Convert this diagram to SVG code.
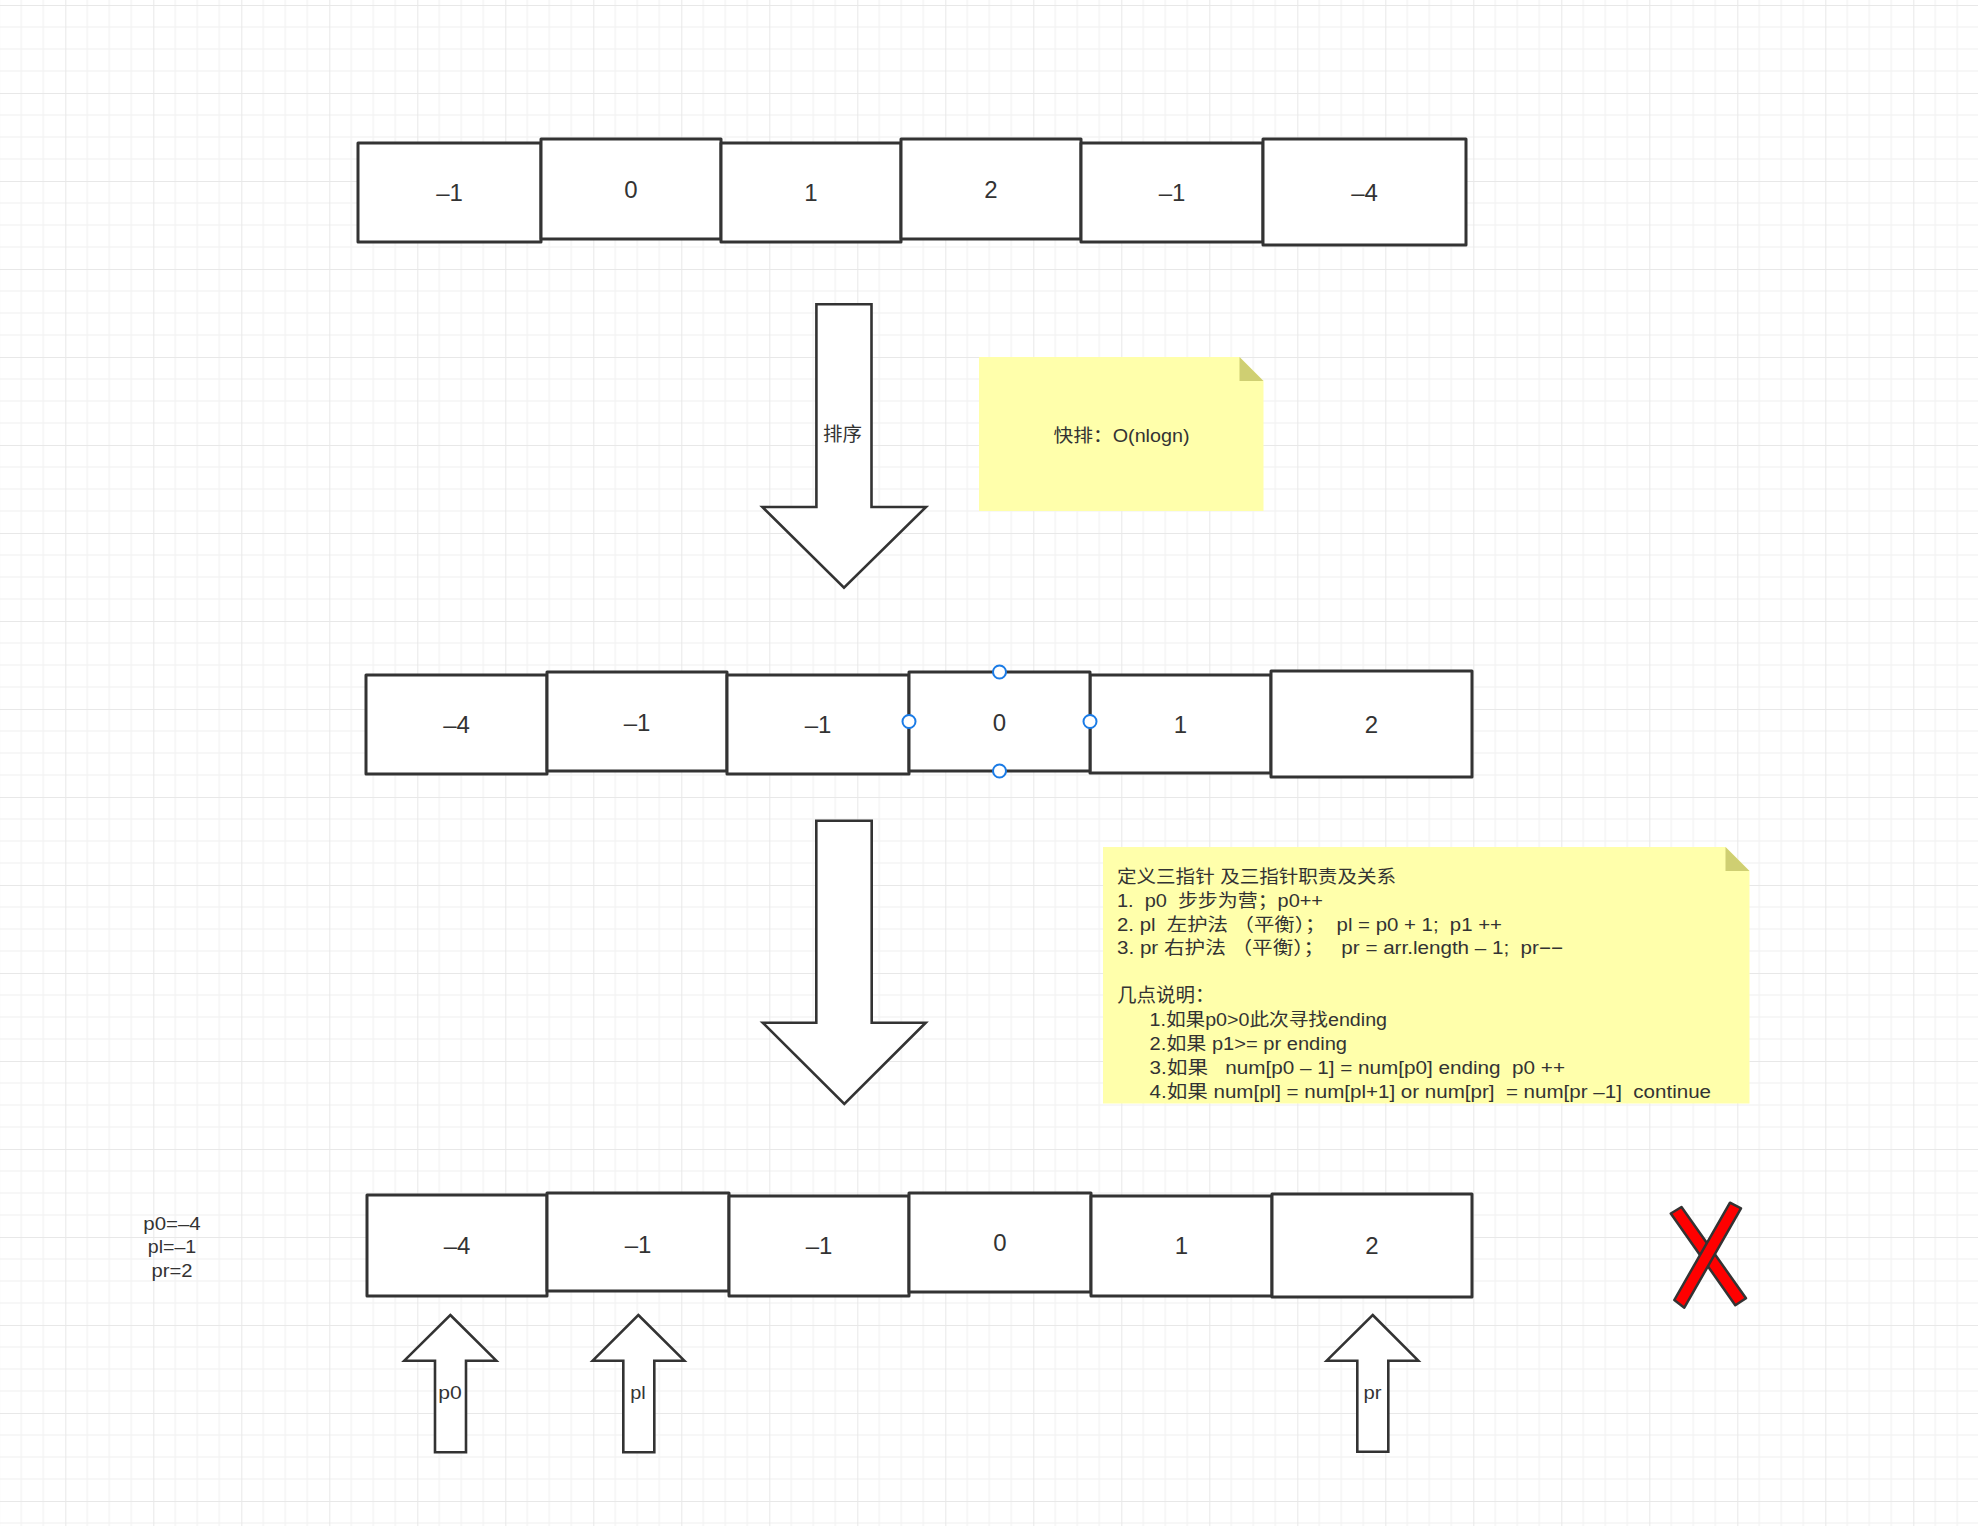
<svg xmlns="http://www.w3.org/2000/svg" width="1978" height="1526" viewBox="0 0 1978 1526">
<defs>
<pattern id="grid" x="65.3" y="5" width="88" height="88" patternUnits="userSpaceOnUse">
<rect x="21.5" y="0" width="1" height="88" fill="#efefef"/>
<rect x="43.5" y="0" width="1" height="88" fill="#efefef"/>
<rect x="65.5" y="0" width="1" height="88" fill="#efefef"/>
<rect x="0" y="21.5" width="88" height="1" fill="#efefef"/>
<rect x="0" y="43.5" width="88" height="1" fill="#efefef"/>
<rect x="0" y="65.5" width="88" height="1" fill="#efefef"/>
<rect x="-1" y="0" width="2" height="88" fill="#e8e8e8"/>
<rect x="0" y="-1" width="88" height="2" fill="#e8e8e8"/>
</pattern>
<style>
.box{fill:#ffffff;stroke:#333333;stroke-width:3;stroke-linejoin:round}
.arr{fill:#ffffff;stroke:#333333;stroke-width:2.6;stroke-linejoin:miter}
.num{font-family:"Liberation Sans","Noto Sans CJK SC",sans-serif;font-size:24px;fill:#333333;text-anchor:middle}
.lbl{font-family:"Liberation Sans","Noto Sans CJK SC",sans-serif;font-size:18px;fill:#333333;text-anchor:middle}
.note{fill:#ffffab}
.fold{fill:#cfcf72}
.nt{font-family:"Liberation Sans","Noto Sans CJK SC",sans-serif;font-size:18px;fill:#333333}
.handle{fill:#ffffff;stroke:#1a7be6;stroke-width:2}
.xbar{fill:#ff0000;stroke:#333333;stroke-width:2.5;stroke-linejoin:round}
</style>
</defs>
<rect width="1978" height="1526" fill="#ffffff"/>
<rect width="1978" height="1526" fill="url(#grid)"/>

<g id="row1">
<g id="r1c1"><rect class="box" x="358" y="143" width="183" height="99"/><text class="num" x="449.5" y="201">–1</text></g>
<g id="r1c2"><rect class="box" x="541" y="139" width="180" height="100"/><text class="num" x="631" y="197.5">0</text></g>
<g id="r1c3"><rect class="box" x="721" y="143" width="180" height="99"/><text class="num" x="811" y="201">1</text></g>
<g id="r1c4"><rect class="box" x="901" y="139" width="180" height="100"/><text class="num" x="991" y="197.5">2</text></g>
<g id="r1c5"><rect class="box" x="1081" y="143" width="182" height="99"/><text class="num" x="1172" y="201">–1</text></g>
<g id="r1c6"><rect class="box" x="1263" y="139" width="203" height="106"/><text class="num" x="1364.5" y="201">–4</text></g>
</g>

<g id="row2">
<g id="r2c1"><rect class="box" x="366" y="675" width="181" height="99"/><text class="num" x="456.5" y="733">–4</text></g>
<g id="r2c2"><rect class="box" x="547" y="672" width="180" height="99"/><text class="num" x="637" y="730.5">–1</text></g>
<g id="r2c3"><rect class="box" x="727" y="675" width="182" height="99"/><text class="num" x="818" y="733">–1</text></g>
<g id="r2c5"><rect class="box" x="1090" y="675" width="181" height="98"/><text class="num" x="1180.5" y="733">1</text></g>
<g id="r2c6"><rect class="box" x="1271" y="671" width="201" height="106"/><text class="num" x="1371.5" y="733">2</text></g>
<g id="r2c4"><rect class="box" x="909" y="672" width="181" height="99"/><text class="num" x="999.5" y="730.5">0</text>
<circle class="handle" cx="999.5" cy="672" r="6.5"/><circle class="handle" cx="999.5" cy="771" r="6.5"/><circle class="handle" cx="909" cy="721.5" r="6.5"/><circle class="handle" cx="1090" cy="721.5" r="6.5"/></g>
</g>

<g id="row3">
<g id="r3c1"><rect class="box" x="367" y="1195" width="180" height="101"/><text class="num" x="457" y="1253.5">–4</text></g>
<g id="r3c2"><rect class="box" x="547" y="1193" width="182" height="98"/><text class="num" x="638" y="1252.5">–1</text></g>
<g id="r3c3"><rect class="box" x="729" y="1196" width="180" height="100"/><text class="num" x="819" y="1253.5">–1</text></g>
<g id="r3c4"><rect class="box" x="909" y="1193" width="182" height="99"/><text class="num" x="1000" y="1251">0</text></g>
<g id="r3c5"><rect class="box" x="1091" y="1196" width="181" height="100"/><text class="num" x="1181.5" y="1253.5">1</text></g>
<g id="r3c6"><rect class="box" x="1272" y="1194" width="200" height="103"/><text class="num" x="1372" y="1253.5">2</text></g>
</g>

<g id="connectors">
<g id="sortArrow"><polygon class="arr" points="816.4,304.3 871.5,304.3 871.5,507 926,507 844,587.7 762.4,507 816.4,507"/><text class="lbl" x="842.5" y="441" style="font-size:19.5px">排序</text></g>
<g id="downArrow2"><polygon class="arr" points="816.3,820.7 871.7,820.7 871.7,1022.7 925.7,1022.7 844.3,1104 762.7,1022.7 816.3,1022.7"/></g>
</g>

<g id="note1">
<polygon class="note" points="979,357 1239.5,357 1263.5,381 1263.5,511 979,511"/>
<polygon class="fold" points="1239.5,357 1263.5,381 1239.5,381"/>
<text class="lbl" x="1121.5" y="442" textLength="136" lengthAdjust="spacingAndGlyphs">快排：O(nlogn)</text>
</g>

<g id="note2">
<polygon class="note" points="1103,847 1725.5,847 1749.5,871 1749.5,1103.5 1103,1103.5"/>
<polygon class="fold" points="1725.5,847 1749.5,871 1725.5,871"/>
<text class="nt" xml:space="preserve" x="1117" y="882.5" textLength="279" lengthAdjust="spacingAndGlyphs">定义三指针 及三指针职责及关系</text>
<text class="nt" xml:space="preserve" x="1117" y="906.5" textLength="206" lengthAdjust="spacingAndGlyphs">1.  p0  步步为营；p0++</text>
<text class="nt" xml:space="preserve" x="1117" y="930.5" textLength="385" lengthAdjust="spacingAndGlyphs">2. pl  左护法 （平衡）；  pl = p0 + 1;  p1 ++</text>
<text class="nt" xml:space="preserve" x="1117" y="954" textLength="446" lengthAdjust="spacingAndGlyphs">3. pr 右护法 （平衡）；   pr = arr.length – 1;  pr−−</text>
<text class="nt" xml:space="preserve" x="1117" y="1002" style="font-size:19.5px">几点说明：</text>
<text class="nt" xml:space="preserve" x="1149.5" y="1026" textLength="237.5" lengthAdjust="spacingAndGlyphs">1.如果p0&gt;0此次寻找ending</text>
<text class="nt" xml:space="preserve" x="1149.5" y="1050" textLength="197.5" lengthAdjust="spacingAndGlyphs">2.如果 p1&gt;= pr ending</text>
<text class="nt" xml:space="preserve" x="1149.5" y="1074" textLength="415.5" lengthAdjust="spacingAndGlyphs">3.如果   num[p0 – 1] = num[p0] ending  p0 ++</text>
<text class="nt" xml:space="preserve" x="1149.5" y="1097.5" textLength="561.5" lengthAdjust="spacingAndGlyphs">4.如果 num[pl] = num[pl+1] or num[pr]  = num[pr –1]  continue</text>
</g>

<g id="pointerValues">
<text class="lbl" x="172" y="1229.5" textLength="57.5" lengthAdjust="spacingAndGlyphs">p0=–4</text>
<text class="lbl" x="172" y="1253" textLength="48.5" lengthAdjust="spacingAndGlyphs">pl=–1</text>
<text class="lbl" x="172" y="1276.5" textLength="41" lengthAdjust="spacingAndGlyphs">pr=2</text>
</g>

<g id="p0Arrow"><polygon class="arr" points="450.3,1315 496.3,1360.7 466,1360.7 466,1452.3 435,1452.3 435,1360.7 404.3,1360.7"/><text class="lbl" x="450" y="1398.5" textLength="23.5" lengthAdjust="spacingAndGlyphs">p0</text></g>
<g id="plArrow"><polygon class="arr" points="638.3,1315 684.3,1360.7 654.3,1360.7 654.3,1452.3 623.3,1452.3 623.3,1360.7 592.7,1360.7"/><text class="lbl" x="638" y="1398.5" textLength="15.5" lengthAdjust="spacingAndGlyphs">pl</text></g>
<g id="prArrow"><polygon class="arr" points="1372.7,1315 1418.3,1360.7 1388.3,1360.7 1388.3,1451.7 1357.3,1451.7 1357.3,1360.7 1326.7,1360.7"/><text class="lbl" x="1372.5" y="1398.5" textLength="18" lengthAdjust="spacingAndGlyphs">pr</text></g>

<g id="crossMark">
<polygon class="xbar" points="1670.8,1213.5 1681.5,1207 1746,1298.3 1735.3,1305.3"/>
<polygon class="xbar" points="1730,1202.7 1741,1208.3 1684.3,1307.7 1674.3,1300"/>
</g>
</svg>
